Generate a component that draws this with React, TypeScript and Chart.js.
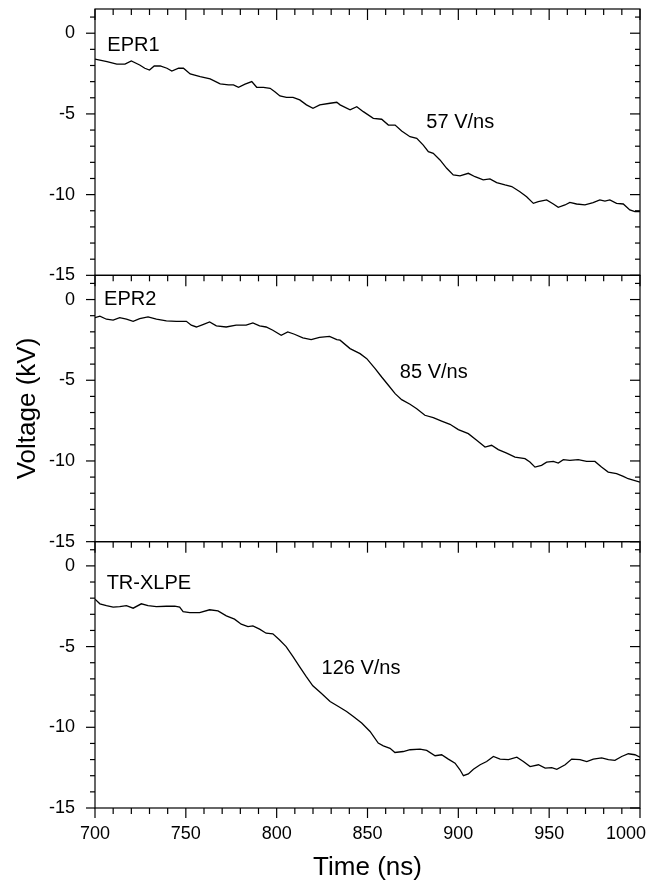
import { useEffect, useRef } from "react";
import { Chart, registerables } from "chart.js";

Chart.register(...registerables);

const FONT = "'Liberation Sans', Arial, Helvetica, sans-serif";

// Time (ns) and voltage (kV) for each trace
const EPR1_T = [700, 706.6, 712, 716.5, 720, 724.6, 727.4, 730, 732.6, 735.9, 739.6, 742.3, 746, 748.7, 752.4, 757.9, 763.4, 768.9, 773.5, 776.2, 779, 782.6, 786.3, 789, 792.7, 796.4, 799, 801.8, 805.4, 809, 812.7, 816.4, 820, 823.7, 829.4, 833.1, 834.9, 840.4, 844.1, 847.7, 853.2, 857.8, 861.5, 865.2, 868.8, 873.4, 877.1, 880.7, 883.5, 886.2, 889.9, 893.6, 897.2, 900.9, 905.5, 909.2, 913.7, 917.4, 921.1, 925.7, 929.4, 933.9, 937.6, 941.3, 944, 948.6, 952.3, 955, 958.7, 961.4, 965.1, 969.7, 974.2, 977.9, 980.7, 983.4, 987.1, 990.8, 994.4, 997.2, 1000];
const EPR1_V = [-1.61, -1.76, -1.92, -1.92, -1.72, -1.97, -2.17, -2.28, -2.03, -2.03, -2.17, -2.34, -2.17, -2.17, -2.52, -2.69, -2.83, -3.14, -3.2, -3.2, -3.35, -3.16, -3.0, -3.35, -3.35, -3.41, -3.62, -3.89, -3.97, -3.97, -4.13, -4.44, -4.65, -4.44, -4.34, -4.28, -4.44, -4.75, -4.55, -4.86, -5.27, -5.33, -5.69, -5.69, -6.06, -6.41, -6.51, -6.93, -7.34, -7.44, -7.85, -8.37, -8.78, -8.84, -8.68, -8.89, -9.09, -9.03, -9.26, -9.4, -9.5, -9.82, -10.13, -10.54, -10.44, -10.33, -10.58, -10.79, -10.64, -10.48, -10.58, -10.64, -10.5, -10.33, -10.4, -10.33, -10.54, -10.58, -10.95, -11.05, -11.05];

const EPR2_T = [700, 702.7, 706.3, 710, 713.6, 717.3, 721, 724.6, 729.2, 733.8, 739.3, 744.8, 750.3, 753, 755.8, 759.4, 763.1, 766.8, 772.2, 777.7, 783.2, 786.9, 790.6, 794.2, 797.9, 802.5, 806.1, 809.8, 814.4, 819, 823.6, 829.1, 833.1, 834.9, 840.4, 845.9, 849.6, 854.2, 857.8, 861.5, 865.2, 868.8, 873.4, 877.1, 881.6, 886.2, 890.8, 895.4, 900, 905.5, 910.1, 914.7, 918.3, 922, 926.6, 931.2, 936.7, 939.4, 942.2, 945.8, 948.6, 952.3, 955, 957.8, 961.4, 966, 970.6, 975.2, 978.8, 982.5, 987.1, 990.8, 993.5, 1000];
const EPR2_V = [-1.12, -1.03, -1.22, -1.28, -1.12, -1.22, -1.35, -1.18, -1.08, -1.22, -1.32, -1.35, -1.35, -1.59, -1.7, -1.55, -1.39, -1.63, -1.7, -1.59, -1.59, -1.45, -1.63, -1.7, -1.9, -2.21, -2.01, -2.15, -2.38, -2.48, -2.34, -2.28, -2.48, -2.52, -3.04, -3.35, -3.66, -4.28, -4.8, -5.31, -5.83, -6.2, -6.49, -6.76, -7.17, -7.32, -7.53, -7.73, -8.06, -8.31, -8.72, -9.14, -9.03, -9.3, -9.51, -9.76, -9.86, -10.07, -10.38, -10.27, -10.07, -10.03, -10.13, -9.92, -9.96, -9.92, -10.03, -10.03, -10.38, -10.69, -10.79, -10.95, -11.1, -11.31];

const XLPE_T = [700, 702.7, 706.3, 710, 713.6, 717.3, 721, 725.5, 729.2, 733.8, 739.3, 743.9, 746.6, 748.5, 752.2, 757.6, 763.1, 767.7, 772.3, 776.8, 780.5, 784.2, 786.9, 790.6, 794.2, 797.9, 801.5, 805.2, 808.9, 812.5, 816.2, 819.9, 824.4, 829.4, 834, 838.5, 842.2, 846.8, 851.4, 855.9, 858.7, 862.4, 865.1, 869.7, 873.4, 878.9, 882.6, 887.2, 890.8, 894.5, 898.2, 900.9, 902.8, 905.5, 908.3, 912, 915.6, 919.3, 923, 927.6, 932.2, 935.8, 939.5, 944.1, 947.8, 951.4, 954.2, 958.8, 962.4, 967, 970.7, 974.3, 978.9, 982.6, 986.2, 989.9, 993.6, 997.2, 1000];
const XLPE_V = [-2.06, -2.35, -2.46, -2.56, -2.52, -2.46, -2.62, -2.35, -2.46, -2.52, -2.5, -2.5, -2.56, -2.83, -2.89, -2.89, -2.72, -2.79, -3.1, -3.3, -3.61, -3.76, -3.72, -3.92, -4.17, -4.21, -4.58, -5.0, -5.61, -6.23, -6.85, -7.43, -7.88, -8.4, -8.71, -9.02, -9.33, -9.74, -10.26, -10.98, -11.15, -11.3, -11.56, -11.5, -11.39, -11.35, -11.43, -11.76, -11.7, -11.97, -12.22, -12.63, -13.0, -12.89, -12.6, -12.32, -12.12, -11.81, -11.97, -12.0, -11.85, -12.12, -12.43, -12.32, -12.53, -12.5, -12.6, -12.32, -11.97, -12.0, -12.12, -11.97, -11.9, -12.0, -12.05, -11.81, -11.64, -11.7, -11.85];

// Panel labels and slope annotations (text, time, voltage, axis)
const NOTE_TEXT = ["EPR1", "57 V/ns", "EPR2", "85 V/ns", "TR-XLPE", "126 V/ns"];
const NOTE_T = [706.8, 882.4, 705, 867.8, 706.4, 824.7];
const NOTE_V = [-0.77, -5.5, 0.0, -4.49, -1.11, -6.38];
const NOTE_AXIS = ["yA", "yA", "yB", "yB", "yC", "yC"];

const X_MIN = 700;
const X_MAX = 1000;
const Y_MIN = -15;
const Y_MAX = 1.5;
const Y_IDS = ["yA", "yB", "yC"];

function pts(t: number[], v: number[]) {
  return t.map((x, i) => ({ x, y: v[i] }));
}

const framePlugin = {
  id: "frame",
  afterDraw(chart: any) {
    const ctx = chart.ctx;
    const xs = chart.scales.x;
    const L = chart.chartArea.left;
    const R = chart.chartArea.right;
    ctx.save();
    ctx.strokeStyle = "#000";
    ctx.lineWidth = 1.2;
    const line = (x1: number, y1: number, x2: number, y2: number) => {
      ctx.beginPath();
      ctx.moveTo(x1, y1);
      ctx.lineTo(x2, y2);
      ctx.stroke();
    };
    for (const id of Y_IDS) {
      const ys = chart.scales[id];
      const top = ys.top;
      const bot = ys.bottom;
      ctx.strokeRect(L, top, R - L, bot - top);
      for (let v = -15; v <= 1; v++) {
        const p = ys.getPixelForValue(v);
        const major = v % 5 === 0;
        line(L - (major ? 9 : 5), p, L, p);
        line(R - (major ? 10 : 5), p, R, p);
      }
      for (let t = X_MIN; t <= X_MAX; t += 10) {
        const p = xs.getPixelForValue(t);
        const major = t % 50 === 0;
        line(p, top, p, top + (major ? 11 : 6));
      }
    }
    const b = chart.chartArea.bottom;
    for (let t = X_MIN; t <= X_MAX; t += 10) {
      const p = xs.getPixelForValue(t);
      const major = t % 50 === 0;
      line(p, b, p, b + (major ? 10 : 6));
    }
    ctx.fillStyle = "#000";
    // last x tick label sits inside the right edge, right-aligned near its tick
    ctx.font = `18px ${FONT}`;
    ctx.textAlign = "right";
    ctx.textBaseline = "middle";
    const lastLabel = xs.ticks.find((tk: any) => tk.value === X_MAX);
    if (lastLabel) ctx.fillText(String(X_MAX), xs.getPixelForValue(X_MAX) + 6, b + 15 + 10.8);
    ctx.font = `20px ${FONT}`;
    ctx.textAlign = "left";
    NOTE_TEXT.forEach((txt, i) => {
      const ys = chart.scales[NOTE_AXIS[i]];
      ctx.fillText(txt, xs.getPixelForValue(NOTE_T[i]), ys.getPixelForValue(NOTE_V[i]));
    });
    ctx.restore();
  },
};

function yScale(withTitle: boolean) {
  return {
    type: "linear",
    position: "left",
    stack: "panels",
    stackWeight: 1,
    min: Y_MIN,
    max: Y_MAX,
    grid: { display: false, drawTicks: false },
    border: { display: false },
    ticks: {
      stepSize: 5,
      includeBounds: false,
      autoSkip: false,
      padding: 20,
      color: "#000",
      font: { family: FONT, size: 18 },
      callback: (v: number) => (v % 5 === 0 ? String(v) : ""),
    },
    title: {
      display: withTitle,
      text: "Voltage (kV)",
      color: "#000",
      font: { family: FONT, size: 26 },
      padding: { top: 12, bottom: 0 },
    },
    afterFit: (s: any) => {
      s.width = 95;
      s.paddingTop = 0;
      s.paddingBottom = 0;
    },
  };
}

export default function App() {
  const ref = useRef<HTMLCanvasElement>(null);
  useEffect(() => {
    if (!ref.current) return;
    const line = (data: { x: number; y: number }[], axis: string) => ({
      data,
      yAxisID: axis,
      borderColor: "#000",
      borderWidth: 1.3,
      pointRadius: 0,
      tension: 0,
      fill: false,
    });
    const chart = new Chart(ref.current, {
      type: "line",
      data: {
        datasets: [
          line(pts(EPR1_T, EPR1_V), "yA"),
          line(pts(EPR2_T, EPR2_V), "yB"),
          line(pts(XLPE_T, XLPE_V), "yC"),
        ],
      },
      options: {
        responsive: false,
        animation: false,
        layout: { padding: { left: 0, right: 15, top: 9, bottom: 0 } },
        plugins: { legend: { display: false }, tooltip: { enabled: false } },
        scales: {
          x: {
            type: "linear",
            min: X_MIN,
            max: X_MAX,
            grid: { display: false, drawTicks: false },
            border: { display: false },
            ticks: {
              stepSize: 50,
              padding: 15,
              color: "#000",
              maxRotation: 0,
              autoSkip: false,
              font: { family: FONT, size: 18 },
              callback: (v: number) => (v === X_MAX ? "" : String(v)),
            },
            title: {
              display: true,
              text: "Time (ns)",
              color: "#000",
              font: { family: FONT, size: 26 },
              padding: { top: 0, bottom: -3 },
            },
            afterFit: (s: any) => {
              s.height = 72;
              s.paddingLeft = 0;
              s.paddingRight = 0;
            },
          },
          yC: yScale(false),
          yB: yScale(true),
          yA: yScale(false),
        } as any,
      },
      plugins: [framePlugin],
    });
    return () => chart.destroy();
  }, []);
  return (
    <div style={{ position: "absolute", left: 0, top: 0, width: 655, height: 880, background: "#fff" }}>
      <canvas ref={ref} width={655} height={880} style={{ display: "block", width: 655, height: 880 }} />
    </div>
  );
}
